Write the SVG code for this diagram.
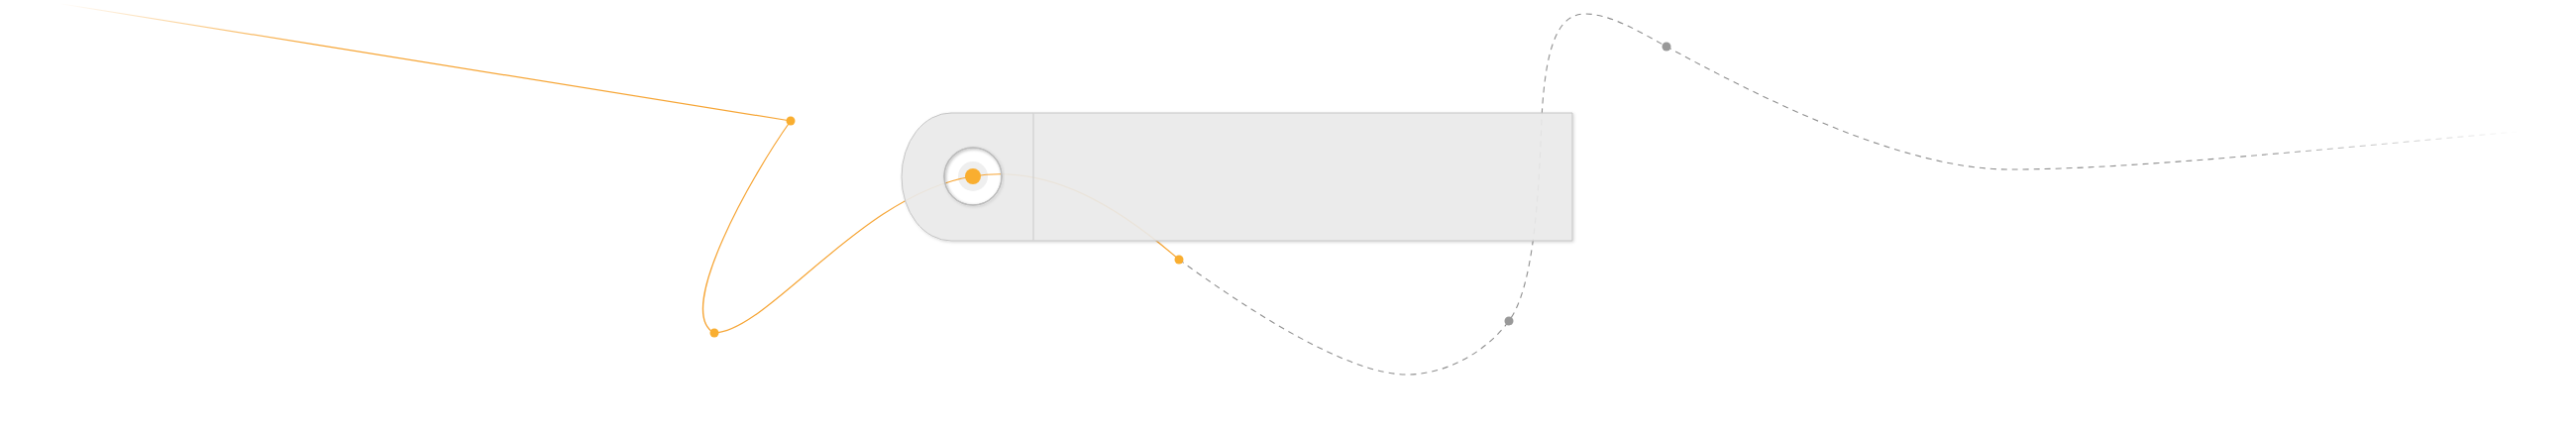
<svg xmlns="http://www.w3.org/2000/svg" width="2600" height="434" viewBox="0 0 2600 434">
<style>
.or{fill:none;stroke:#f6a535;stroke-width:1.2}
.dot-o{fill:#f9ae30}
.dot-g{fill:#999}
</style>
<defs>
<linearGradient id="fadeL" gradientUnits="userSpaceOnUse" x1="60" y1="0" x2="320" y2="0">
<stop offset="0" stop-color="#f6a535" stop-opacity="0"/>
<stop offset="1" stop-color="#f6a535" stop-opacity="1"/>
</linearGradient>
<linearGradient id="fadeR" gradientUnits="userSpaceOnUse" x1="2250" y1="0" x2="2545" y2="0">
<stop offset="0" stop-color="#8f8f8f" stop-opacity="1"/>
<stop offset="1" stop-color="#8f8f8f" stop-opacity="0"/>
</linearGradient>
<filter id="sh" x="-5%" y="-20%" width="110%" height="140%">
<feDropShadow dx="1" dy="1" stdDeviation="1.5" flood-color="#000" flood-opacity="0.18"/>
</filter>
</defs>
<rect width="2600" height="434" fill="#fff"/>
<circle cx="982" cy="178" r="15" fill="#efefef"/>
<g id="connectors">
<path d="M50,2 L798,122" fill="none" stroke="url(#fadeL)" stroke-width="1.2"/>
<path class="or" d="M798,122 C760,175 680,315 721,336 C775,335 870,195 982,178 C1060,165 1130,210 1190,262"/>
<path d="M1190,262 C1260,313 1360,378 1420,378 C1460,378 1500,355 1523,324 C1548,290 1553,200 1556,120 C1560,40 1575,14 1600,14 C1625,14 1655,32 1682,47 C1770,95 1920,172 2030,171 C2150,171 2350,150 2540,133" fill="none" stroke="url(#fadeR)" stroke-width="1.1" stroke-dasharray="6 5"/>
</g>
<g id="node-main">
<path d="M960,114 H1587 V243 H960 A50,64.5 0 0 1 910,178.5 A50,64.5 0 0 1 960,114 Z M953,178 a29,29 0 1 0 58,0 a29,29 0 1 0 -58,0 Z" fill="#ebebeb" fill-opacity="0.9" fill-rule="evenodd" stroke="#c4c4c4" stroke-width="1" filter="url(#sh)"/>
<line x1="1043" y1="114.5" x2="1043" y2="242.5" stroke="#cacaca" stroke-width="1"/>
<circle cx="982" cy="178" r="29" fill="none" stroke="#bcbcbc" stroke-width="1.5" filter="url(#sh)"/>
<circle class="dot-o" cx="982" cy="178" r="8"/>
</g>
<g id="node-p1"><circle class="dot-o" cx="798" cy="122" r="4.5"/></g>
<g id="node-p2"><circle class="dot-o" cx="721" cy="336" r="4.5"/></g>
<g id="node-p3"><circle class="dot-o" cx="1190" cy="262" r="4.5"/></g>
<g id="node-p4"><circle class="dot-g" cx="1523" cy="324" r="4.5"/></g>
<g id="node-p5"><circle class="dot-g" cx="1682" cy="47" r="4.5"/></g>
</svg>
